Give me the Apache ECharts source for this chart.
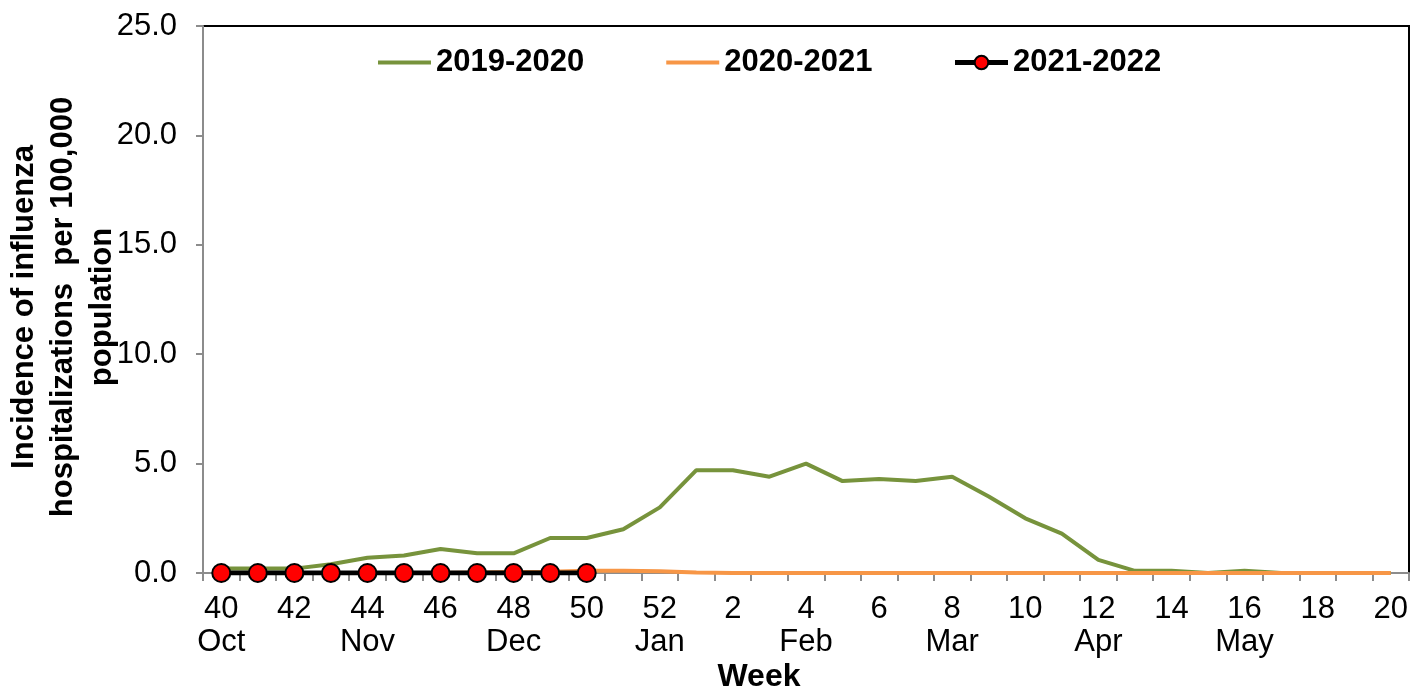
<!DOCTYPE html>
<html>
<head>
<meta charset="utf-8">
<script src="https://cdn.jsdelivr.net/npm/echarts@6/dist/echarts.min.js"></script>
<style>
html,body{margin:0;padding:0;background:#fff;}
#chart{width:1411px;height:688px;}
</style>
</head>
<body>
<div id="chart"></div>
<script>
const weeks = ['40','41','42','43','44','45','46','47','48','49','50','51','52',
  '1','2','3','4','5','6','7','8','9','10','11','12','13','14','15','16','17','18','19','20'];
const months = ['Oct','','','','Nov','','','','Dec','','','','Jan',
  '','','','Feb','','','','Mar','','','','Apr','','','','May','','','',''];
const yTicks = [0, 5, 10, 15, 20, 25];
const s1920 = [0.2,0.2,0.2,0.4,0.7,0.8,1.1,0.9,0.9,1.6,1.6,2.0,3.0,
  4.7,4.7,4.4,5.0,4.2,4.3,4.2,4.4,3.5,2.5,1.8,0.6,0.1,0.1,0.0,0.1,0.0,0.0,0.0,0.0];
const s2021 = [0,0,0,0,0,0,0,0.02,0.04,0.06,0.1,0.1,0.08,
  0.02,0,0,0,0,0,0,0,0,0,0,0,0,0,0,0,0,0,0,0];
const s2122 = [0,0,0,0,0,0,0,0,0,0,0];
const names = ['2019-2020','2020-2021','2021-2022'];

const chart = echarts.init(document.getElementById('chart'));
const axisGray = '#8c8c8c';
const font = 'Liberation Sans, Arial';
chart.setOption({
  animation: false,
  backgroundColor: '#fff',
  grid: {left: 203, right: 2, top: 26, bottom: 115, show: true, borderColor: '#000', borderWidth: 2, backgroundColor: 'transparent'},
  legend: {
    left: 371, top: 42, itemWidth: 53, itemHeight: 17, itemGap: 80,
    textStyle: {fontFamily: font, fontWeight: 'bold', fontSize: 31, color: '#000'},
    data: [
      {name: names[0], itemStyle: {opacity: 0}, lineStyle: {width: 4}},
      {name: names[1], itemStyle: {opacity: 0}, lineStyle: {width: 4}},
      {name: names[2], lineStyle: {width: 5}}
    ]
  },
  xAxis: {
    type: 'category', data: weeks, boundaryGap: true,
    axisLine: {lineStyle: {color: axisGray, width: 2}},
    axisTick: {show: true, interval: 0, alignWithLabel: false, length: 8, lineStyle: {color: axisGray, width: 2}},
    axisLabel: {
      interval: 1, margin: 20, color: '#000', fontFamily: font, fontSize: 31, lineHeight: 33,
      formatter: function (v, i) { return months[i] ? v + '\n' + months[i] : v + '\n '; }
    },
    splitLine: {show: false}
  },
  yAxis: {
    type: 'value', min: yTicks[0], max: yTicks[yTicks.length-1], interval: 5,
    axisLine: {show: true, lineStyle: {color: axisGray, width: 2}},
    axisTick: {show: true, length: 7, lineStyle: {color: axisGray, width: 2}},
    axisLabel: {margin: 26, color: '#000', fontFamily: font, fontSize: 31,
      formatter: function (v) { return v.toFixed(1); }},
    splitLine: {show: false}
  },
  graphic: [
    {type: 'text', x: 63, y: 307, rotation: Math.PI/2,
     style: {text: 'Incidence of influenza\nhospitalizations  per 100,000\npopulation',
       font: 'bold 31px "Liberation Sans", Arial', fill: '#000', align: 'center', verticalAlign: 'middle', lineHeight: 39}},
    {type: 'text', x: 759, y: 677,
     style: {text: 'Week', font: 'bold 32px "Liberation Sans", Arial', fill: '#000', align: 'center', verticalAlign: 'middle'}}
  ],
  series: [
    {name: names[0], type: 'line', data: s1920, showSymbol: false, symbol: 'none',
     lineStyle: {color: '#77933C', width: 4}, itemStyle: {color: '#77933C'}},
    {name: names[1], type: 'line', data: s2021, showSymbol: false, symbol: 'none',
     lineStyle: {color: '#F79646', width: 4}, itemStyle: {color: '#F79646'}},
    {name: names[2], type: 'line', data: s2122, symbol: 'circle', symbolSize: 18,
     lineStyle: {color: '#000', width: 5},
     itemStyle: {color: '#FF0000', borderColor: '#000', borderWidth: 2}}
  ]
});
</script>
</body>
</html>
